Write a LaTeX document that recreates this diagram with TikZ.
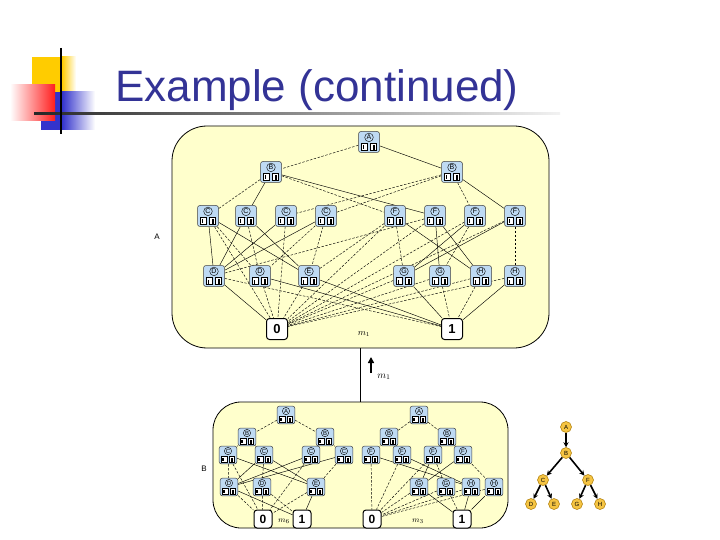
\documentclass[tikz,border=0pt]{standalone}
\usepackage{fontspec}
\setmainfont{Liberation Sans}
\usetikzlibrary{arrows.meta}
\definecolor{titleblue}{RGB}{51,51,150}
\definecolor{nodeblue}{RGB}{190,218,243}
\definecolor{modyellow}{RGB}{255,255,204}
\definecolor{logoyellow}{RGB}{255,204,0}
\definecolor{logored}{RGB}{255,30,30}
\definecolor{logoblue}{RGB}{51,51,204}
\definecolor{treefill}{RGB}{245,196,67}
\definecolor{treeline}{RGB}{170,120,0}
\pgfdeclarelayer{back}
\pgfdeclarelayer{edges}
\pgfsetlayers{back,edges,main}
\tikzset{
  bn/.style={draw=black!75, fill=nodeblue, rounded corners=2.5pt, line width=0.5pt, inner sep=0pt},
  term/.style={draw, line width=1pt, fill=white, rounded corners=3pt, minimum width=21pt, minimum height=21pt, inner sep=0pt, font=\bfseries\fontsize{13}{13}\selectfont},
  terms/.style={term, minimum width=18pt, minimum height=18pt, font=\bfseries\fontsize{12}{12}\selectfont},
  ed/.style={line width=0.45pt, dash pattern=on 2.5pt off 1.5pt},
  es/.style={line width=0.45pt},
  module/.style={draw, line width=0.8pt, fill=modyellow, inner sep=0pt},
  tnode/.style={circle, draw=treeline, fill=treefill, line width=0.5pt, minimum size=11pt, inner sep=0pt, font=\fontsize{6}{6}\selectfont},
  tarrow/.style={line width=1.6pt, -{Stealth[length=5pt,width=5pt]}},
  sidelabel/.style={inner sep=0pt, font=\fontsize{8}{8}\selectfont},
}
\newcommand\bddnode[6]{%
  \node[bn, minimum width=#5*21pt, minimum height=#5*21pt] (#1) at (#2,#3) {};
  \begin{scope}[shift={(#1.center)}, scale=#5]
    \draw[line width=0.4pt, fill=nodeblue] (0,-4.6) circle (4.3);
    \node[inner sep=0pt, font=\fontsize{#6}{#6}\selectfont] at (0,-4.5) {#4};
    \draw[line width=0.4pt, fill=white] (-7.5,1.5) rectangle (-1.5,8.5);
    \fill (-6.5,3.5) rectangle (-5,7.5);
    \draw[line width=0.4pt, fill=white] (1.5,1.5) rectangle (7.5,8.5);
    \draw[line width=0.3pt] (3.8,3.5) rectangle (5.2,7.5);
  \end{scope}}
\begin{document}
\begin{tikzpicture}[x=1pt,y=-1pt]
\useasboundingbox (0,0) rectangle (720,540);
% ---- logo ----
\fill[logoyellow] (32,57) rectangle (62,92);
\shade[left color=logoyellow, right color=white] (62,57) rectangle (76,92);
\fill[logoblue] (41,92) rectangle (62,130);
\shade[left color=logoblue, right color=white] (62,92) rectangle (95,130);
\shade[left color=white, right color=logored] (10,85) rectangle (55,121);
\shade[left color=black!85, right color=black!5] (34,112.5) rectangle (560,115);
\draw[line width=1.5pt] (61,48) -- (61,134);
% ---- title ----
\node[anchor=base west, inner sep=0pt, text=titleblue, font=\fontsize{44}{44}\selectfont] (title) at (115,102) {Example (continued)};
% ---- modules ----
\begin{pgfonlayer}{back}
\node[module, rounded corners=35pt, minimum width=377pt, minimum height=222pt] (topmod) at (360.5,237) {};
\node[module, rounded corners=28pt, minimum width=295pt, minimum height=126pt] (botmod) at (360.5,465) {};
\end{pgfonlayer}
\node[sidelabel] (labA) at (157,237) {A};
\node[sidelabel] (labB) at (204,469) {B};
% ---- top module nodes ----
\bddnode{tA}{369}{142}{A}{1}{7}
\bddnode{tB1}{271}{172}{B}{1}{7}
\bddnode{tB2}{452}{172}{B}{1}{7}
\bddnode{tC1}{208}{216}{C}{1}{7}
\bddnode{tC2}{246}{216}{C}{1}{7}
\bddnode{tC3}{286}{216}{C}{1}{7}
\bddnode{tC4}{326}{216}{C}{1}{7}
\bddnode{tF1}{395}{216}{F}{1}{7}
\bddnode{tF2}{435}{216}{F}{1}{7}
\bddnode{tF3}{475}{216}{F}{1}{7}
\bddnode{tF4}{515}{216}{F}{1}{7}
\bddnode{tD1}{214}{276}{D}{1}{7}
\bddnode{tD2}{260}{276}{D}{1}{7}
\bddnode{tE}{309}{276}{E}{1}{7}
\bddnode{tG1}{404}{276}{G}{1}{7}
\bddnode{tG2}{440}{276}{G}{1}{7}
\bddnode{tH1}{481}{276}{H}{1}{7}
\bddnode{tH2}{515}{276}{H}{1}{7}
\node[term] (t0) at (277,329) {0};
\node[term] (t1) at (452,329) {1};
\node[inner sep=0pt, font=\fontsize{9}{9}\selectfont] (tm) at (364,334) {$m_1$};
\begin{pgfonlayer}{edges}
\foreach \a/\b in {tA/tB1, tB1/tC1, tB1/tF1, tB2/tC3, tB2/tC4, tB2/tF3,
  tC1/tD2, tC1/t0, tC2/tD2, tC3/t0, tC4/tE, tC4/tD2,
  tF1/tG1, tF1/t0, tF2/t0, tF3/tG2, tF3/t0, tF4/tH2, tF4/t0, tF1/tE, tF2/tD1,
  tD1/t1, tD2/t0, tE/t0, tG1/t0, tG2/t0, tG2/t1, tH1/t0, tH1/t1, tH2/t0}
  \draw[ed] (\a) -- (\b);
\foreach \a/\b in {tA/tB2, tB1/tC2, tB1/tF2, tB2/tF4,
  tC1/tD1, tC1/tE, tC2/tD1, tC2/tE, tC3/tD1, tC4/tD1,
  tF1/tH1, tF2/tG2, tF2/tH1, tF3/tG1, tF4/tG1,
  tD1/t0, tD2/t1, tE/t1, tG1/t1, tH2/t1}
  \draw[es] (\a) -- (\b);
\end{pgfonlayer}
% ---- connector between modules ----
\draw[line width=0.6pt] (topmod.south) -- (botmod.north);
\coordinate (arS) at (371,373);
\coordinate (arE) at (371,357);
\draw[line width=2pt, -{Triangle[length=6pt,width=6pt]}] (arS) -- (arE);
\node[inner sep=0pt, font=\fontsize{10}{10}\selectfont] (am) at (384,377) {$m_1$};
% ---- bottom-left subgraph ----
\bddnode{lA}{286}{415}{A}{0.85}{6}
\bddnode{lB1}{247}{437}{B}{0.85}{6}
\bddnode{lB2}{325}{437}{B}{0.85}{6}
\bddnode{lC1}{228}{455}{C}{0.85}{6}
\bddnode{lC2}{264}{455}{C}{0.85}{6}
\bddnode{lC3}{311}{455}{C}{0.85}{6}
\bddnode{lC4}{344}{455}{C}{0.85}{6}
\bddnode{lD1}{229}{487}{D}{0.85}{6}
\bddnode{lD2}{262}{487}{D}{0.85}{6}
\bddnode{lE}{316}{487}{E}{0.85}{6}
\node[terms] (l0) at (263,519) {0};
\node[terms] (l1) at (302,519) {1};
\node[inner sep=0pt, font=\fontsize{8}{8}\selectfont] (lm) at (284,521) {$m_6$};
% ---- bottom-right subgraph ----
\bddnode{rA}{419}{415}{A}{0.85}{6}
\bddnode{rB1}{389}{437}{B}{0.85}{6}
\bddnode{rB2}{447}{437}{B}{0.85}{6}
\bddnode{rF1}{371}{455}{F}{0.85}{6}
\bddnode{rF2}{402}{455}{F}{0.85}{6}
\bddnode{rF3}{433}{455}{F}{0.85}{6}
\bddnode{rF4}{463}{455}{F}{0.85}{6}
\bddnode{rG1}{419}{487}{G}{0.85}{6}
\bddnode{rG2}{446}{487}{G}{0.85}{6}
\bddnode{rH1}{471}{487}{H}{0.85}{6}
\bddnode{rH2}{494}{487}{H}{0.85}{6}
\node[terms] (r0) at (372,519) {0};
\node[terms] (r1) at (462,519) {1};
\node[inner sep=0pt, font=\fontsize{8}{8}\selectfont] (rm) at (418,521) {$m_3$};
\begin{pgfonlayer}{edges}
\foreach \a/\b in {lA/lB1, lA/lB2, lB1/lC1, lB2/lC3, lC1/lD1, lC1/l0, lC2/lD2, lC3/l0, lC4/lE,
  lD1/l0, lD2/l0, lD2/l1, lE/l0,
  rA/rB1, rA/rB2, rB1/rF1, rB2/rF3, rF1/r0, rF2/r0, rF3/r0, rF4/rH2, rF3/rG2,
  rG1/r0, rG2/r0, rG2/r1, rH1/r0, rH2/r0}
  \draw[ed] (\a) -- (\b);
\foreach \a/\b in {lB1/lC2, lB2/lC4, lC1/lE, lC2/lD1, lC2/lE, lC3/lD1, lC4/lD1, lD1/l1, lE/l1,
  rB1/rF2, rB2/rF4, rF1/rH1, rF2/rH1, rF3/rG1, rF4/rG1, rG1/r1, rH1/r1, rH2/r1}
  \draw[es] (\a) -- (\b);
\end{pgfonlayer}
% ---- variable tree ----
\node[tnode] (sA) at (566,427) {A};
\node[tnode] (sB) at (566,453) {B};
\node[tnode] (sC) at (543,480) {C};
\node[tnode] (sF) at (588,480) {F};
\node[tnode] (sD) at (531,504) {D};
\node[tnode] (sE) at (554,504) {E};
\node[tnode] (sG) at (577,504) {G};
\node[tnode] (sH) at (600,504) {H};
\foreach \a/\b in {sA/sB, sB/sC, sB/sF, sC/sD, sC/sE, sF/sG, sF/sH}
  \draw[tarrow] (\a) -- (\b);
\end{tikzpicture}
\end{document}
